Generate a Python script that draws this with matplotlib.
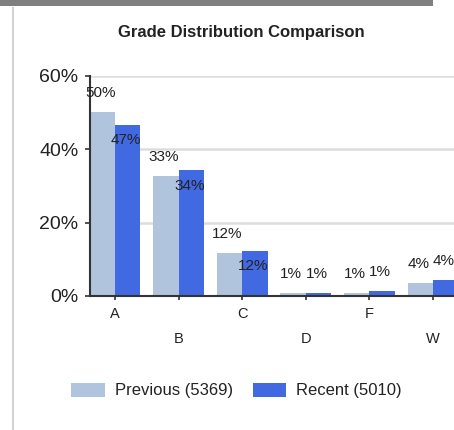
import matplotlib
matplotlib.use("Agg")
import matplotlib.pyplot as plt
from matplotlib.patches import Rectangle
from matplotlib.lines import Line2D
from matplotlib.ticker import FuncFormatter

categories = ["A", "B", "C", "D", "F", "W"]
previous = [50.2, 32.8, 11.8, 0.8, 0.8, 3.6]
recent = [46.7, 34.3, 12.3, 0.9, 1.3, 4.4]
series_names = ["Previous (5369)", "Recent (5010)"]
title = "Grade Distribution Comparison"
yticks = [0, 20, 40, 60]

W, H = 454, 430
DPI = 100
plt.rcParams['font.family'] = ['Liberation Sans', 'DejaVu Sans']
fig = plt.figure(figsize=(W / DPI, H / DPI), dpi=DPI)

# frame decorations
fig.add_artist(Rectangle((0, 1 - 6 / H), 433 / W, 6 / H, transform=fig.transFigure,
                         facecolor="#7f7f7f", edgecolor="none"))
fig.add_artist(Line2D([12.5 / W, 12.5 / W], [0, 1 - 8 / H], transform=fig.transFigure,
                      color="#d4d4d4", lw=1.5))

ax_left = 89.5 / W
ax_bottom = (H - 296) / H
ax_height = 220 / H
ax_width = 6.0 * 63.6 / W
ax = fig.add_axes([ax_left, ax_bottom, ax_width, ax_height])
ax.set_xlim(-0.4, 5.6)
ax.set_ylim(0, 60)

x = list(range(len(categories)))
bw = 0.4
prev_color = "#B0C4DE"
rec_color = "#4169E1"
ax.bar([i - bw / 2 for i in x], previous, width=bw, color=prev_color, label=series_names[0], zorder=2)
ax.bar([i + bw / 2 for i in x], recent, width=bw, color=rec_color, label=series_names[1], zorder=2)

px = 72 / DPI
for i in x:
    ax.annotate(f"{previous[i]:.0f}%", (i - bw / 2, previous[i]), xytext=(-2 * px, 19 * px),
                textcoords="offset points", ha="center", va="center", fontsize=11,
                color="#222222", zorder=3, annotation_clip=False)
    off = -15.5 if recent[i] >= 10 else 19
    ax.annotate(f"{recent[i]:.0f}%", (i + bw / 2, recent[i]), xytext=(-2 * px, off * px),
                textcoords="offset points", ha="center", va="center", fontsize=11,
                color="#222222", zorder=3, annotation_clip=False)

ax.set_yticks(yticks)
ax.yaxis.set_major_formatter(FuncFormatter(lambda v, p: f"{v:.0f}%"))
ax.tick_params(axis="y", length=3.6, width=1.2, color="#333333", pad=4.3,
               labelsize=14, labelcolor="#222222")
ax.grid(axis="y", color="#dddddd", lw=1.8, zorder=0)
ax.set_axisbelow(True)

ax.set_xticks(x[0::2])
ax.set_xticklabels(categories[0::2])
ax.set_xticks(x[1::2], minor=True)
ax.set_xticklabels(categories[1::2], minor=True)
ax.tick_params(axis="x", which="major", length=3, width=1.2, color="#333333",
               pad=5.2, labelsize=10.5, labelcolor="#222222")
ax.tick_params(axis="x", which="minor", length=3, width=1.2, color="#333333",
               pad=23.0, labelsize=10.5, labelcolor="#222222")

for s in ["top", "right"]:
    ax.spines[s].set_visible(False)
for s in ["left", "bottom"]:
    ax.spines[s].set_color("#333333")
    ax.spines[s].set_linewidth(1.5)

fig.text(241.5 / W, 1 - 32.5 / H, title, ha="center", va="center", fontsize=12,
         fontweight="bold", color="#222222")

handles, labels = ax.get_legend_handles_labels()
fig.legend(handles, labels, loc="center", bbox_to_anchor=(236.5 / W, 1 - 390.5 / H),
           ncol=2, frameon=False, fontsize=12, handlelength=2.0, handleheight=0.9,
           handletextpad=0.6, columnspacing=1.2, labelcolor="#222222")

fig.savefig("out.png", dpi=DPI)
